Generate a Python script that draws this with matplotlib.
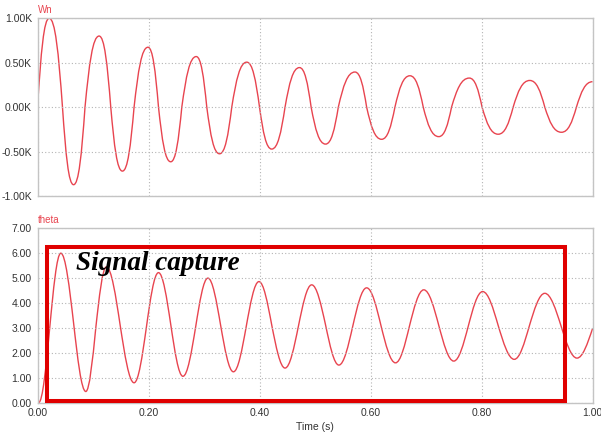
import matplotlib
matplotlib.use("Agg")
import matplotlib.pyplot as plt
from matplotlib.path import Path
from matplotlib.patches import PathPatch, Rectangle
from matplotlib.ticker import FuncFormatter

# Wn (in K): knots, alternating zero crossing / extreme
wn_t = [0.0, 0.021, 0.045, 0.065, 0.0856, 0.111, 0.132, 0.153, 0.174, 0.199,
        0.218, 0.240, 0.260, 0.286, 0.305, 0.328, 0.350, 0.377, 0.400, 0.422,
        0.446, 0.472, 0.493, 0.519, 0.542, 0.572, 0.593, 0.620, 0.644, 0.671,
        0.695, 0.723, 0.746, 0.778, 0.801, 0.830, 0.857, 0.887, 0.914, 0.944,
        0.971, 1.0]
wn_v = [0.0, 1.0, 0.0, -0.873, 0.0, 0.80, 0.0, -0.72, 0.0, 0.674,
        0.0, -0.615, 0.0, 0.569, 0.0, -0.525, 0.0, 0.506, 0.0, -0.472,
        0.0, 0.445, 0.0, -0.416, 0.0, 0.395, 0.0, -0.362, 0.0, 0.353,
        0.0, -0.332, 0.0, 0.327, 0.0, -0.305, 0.0, 0.300, 0.0, -0.283,
        0.0, 0.286]

# theta: knots alternating extreme / mid crossing
th_t = [0.002, 0.022, 0.042, 0.065, 0.087, 0.105, 0.124, 0.149, 0.174, 0.196,
        0.218, 0.240, 0.262, 0.285, 0.307, 0.330, 0.353, 0.376, 0.399, 0.422,
        0.446, 0.470, 0.494, 0.519, 0.543, 0.568, 0.593, 0.619, 0.645, 0.670,
        0.696, 0.723, 0.750, 0.776, 0.802, 0.830, 0.859, 0.886, 0.914, 0.943,
        0.972, 1.0]
th_v = [0.0, 3.0, 6.0, 3.2, 0.45, 3.0, 5.45, 3.1, 0.80, 3.0,
        5.22, 3.15, 1.06, 3.05, 5.0, 3.1, 1.24, 3.05, 4.86, 3.12,
        1.39, 3.06, 4.73, 3.12, 1.51, 3.07, 4.61, 3.08, 1.60, 3.06,
        4.53, 3.1, 1.67, 3.06, 4.46, 3.1, 1.74, 3.07, 4.39, 3.1,
        1.79, 2.97]

x_ticks = [0.0, 0.2, 0.4, 0.6, 0.8, 1.0]
wn_ticks = [-1.0, -0.5, 0.0, 0.5, 1.0]
th_ticks = [0, 1, 2, 3, 4, 5, 6, 7]

CURVE = "#e8444f"
TXT = "#333333"


def wave_path(t, v, first_extreme, flat=False):
    # smooth bezier between crossing and extreme knots; flat=True gives broader tops
    a, b = (0.30, 0.62) if flat else (0.326, 0.5123)
    c = 0.55 if flat else 0.638
    verts = [(t[0], v[0])]
    codes = [Path.MOVETO]
    for i in range(len(t) - 1):
        t0, v0, t1, v1 = t[i], v[i], t[i + 1], v[i + 1]
        dt, dv = t1 - t0, v1 - v0
        start_ext = (i % 2 == 0) == first_extreme
        if start_ext:
            c1 = (t0 + (1 - c) * dt, v0)
            c2 = (t0 + (1 - a) * dt, v0 + (1 - b) * dv)
        else:
            c1 = (t0 + a * dt, v0 + b * dv)
            c2 = (t0 + c * dt, v1)
        verts += [c1, c2, (t1, v1)]
        codes += [Path.CURVE4] * 3
    return Path(verts, codes)


def style(ax):
    for s in ax.spines.values():
        s.set_color("#c4c4c4")
        s.set_linewidth(1.0)
    ax.grid(True, color="#b4b4b4", linestyle=(0, (1, 2)), linewidth=0.8)
    ax.tick_params(length=0, labelsize=7.5, colors=TXT, pad=4)
    ax.set_xlim(0, 1)
    ax.set_xticks(x_ticks)


plt.rcParams["font.family"] = ["Liberation Sans", "DejaVu Sans"]
fig = plt.figure(figsize=(6.01, 4.36), dpi=100)
ax1 = fig.add_axes([0.0624, 0.5505, 0.9235, 0.4076])
ax2 = fig.add_axes([0.0624, 0.0764, 0.9235, 0.4])

style(ax1)
ax1.set_ylim(-1.0, 1.0)
ax1.set_yticks(wn_ticks)
ax1.yaxis.set_major_formatter(FuncFormatter(lambda y, p: f"{y:.2f}K"))
ax1.tick_params(labelbottom=False)
ax1.add_patch(PathPatch(wave_path(wn_t, wn_v, False, flat=True), fill=False,
                        edgecolor=CURVE, linewidth=1.0))
ax1.text(0.0, 1.02, "Wn", transform=ax1.transAxes, color=CURVE,
         fontsize=7, va="bottom", ha="left")

style(ax2)
ax2.set_ylim(0, 7)
ax2.set_yticks(th_ticks)
ax2.yaxis.set_major_formatter(FuncFormatter(lambda y, p: f"{y:.2f}"))
ax2.xaxis.set_major_formatter(FuncFormatter(lambda x, p: f"{x:.2f}"))
ax2.add_patch(PathPatch(wave_path(th_t, th_v, True), fill=False,
                        edgecolor=CURVE, linewidth=1.0))
ax2.text(0.0, 1.02, "theta", transform=ax2.transAxes, color=CURVE,
         fontsize=7, va="bottom", ha="left")
ax2.set_xlabel("Time (s)", fontsize=7.5, color=TXT, labelpad=3)

# highlighted capture window
ax2.add_patch(Rectangle((0.0166, 0.08), 0.934, 6.16, fill=False,
                        edgecolor="#e00000", linewidth=2.9, clip_on=False,
                        zorder=5))
ax2.text(0.069, 5.33, "Signal capture", fontsize=19.5, fontweight="bold",
         fontstyle="italic", family="Liberation Serif", color="black",
         zorder=6)

fig.savefig("out.png", dpi=100)
